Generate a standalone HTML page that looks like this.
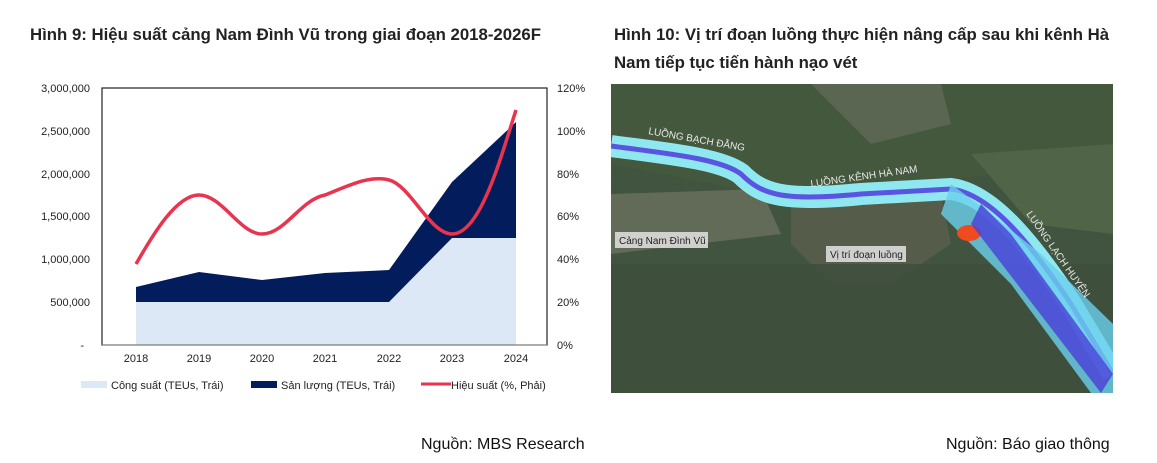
<!DOCTYPE html>
<html><head><meta charset="utf-8"><style>
body{margin:0;width:1157px;height:463px;background:#fff;font-family:"Liberation Sans",sans-serif;position:relative;overflow:hidden}
.t{position:absolute;font-weight:bold;font-size:16.8px;color:#222;white-space:nowrap}
.s{position:absolute;font-size:16px;color:#111;white-space:nowrap}
</style></head><body>
<div class="t" style="left:30px;top:25px">Hình 9: Hiệu suất cảng Nam Đình Vũ trong giai đoạn 2018-2026F</div>
<div class="t" style="left:614px;top:25px">Hình 10: Vị trí đoạn luồng thực hiện nâng cấp sau khi kênh Hà</div>
<div class="t" style="left:614px;top:53px">Nam tiếp tục tiến hành nạo vét</div>
<svg style="position:absolute;left:0;top:0" width="600" height="410" font-family="Liberation Sans" font-size="11" fill="#222">
<polygon points="136,302 389,302 452,238 516,238 516,345 136,345" fill="#dce8f5"/>
<polygon points="136,287 199,272 262,280 325,273 389,270 452,182 516,122 516,238 452,238 389,302 136,302" fill="#031d5c"/>
<rect x="102" y="88" width="445" height="257" fill="none" stroke="#222" stroke-width="1.2"/>
<g stroke="#888"><line x1="102" y1="345" x2="547" y2="345"/></g>
<path d="M136,264 C150,240 175,195 199,195 C222,195 240,234 262,234 C285,234 300,200 325,195 C350,185 370,175 389,180 C410,185 430,234 452,234 C480,234 500,160 516,110" fill="none" stroke="#e8344e" stroke-width="3.5"/>
<g text-anchor="end"><text x="90" y="92">3,000,000</text><text x="90" y="135">2,500,000</text><text x="90" y="178">2,000,000</text><text x="90" y="220">1,500,000</text><text x="90" y="263">1,000,000</text><text x="90" y="306">500,000</text><text x="84" y="349">-</text></g>
<g><text x="557" y="92">120%</text><text x="557" y="135">100%</text><text x="557" y="178">80%</text><text x="557" y="220">60%</text><text x="557" y="263">40%</text><text x="557" y="306">20%</text><text x="557" y="349">0%</text></g>
<g text-anchor="middle"><text x="136" y="362">2018</text><text x="199" y="362">2019</text><text x="262" y="362">2020</text><text x="325" y="362">2021</text><text x="389" y="362">2022</text><text x="452" y="362">2023</text><text x="516" y="362">2024</text></g>
<rect x="81" y="381" width="26" height="7" fill="#dce8f5"/><text x="111" y="389">Công suất (TEUs, Trái)</text>
<rect x="251" y="381" width="26" height="7" fill="#031d5c"/><text x="281" y="389">Sản lượng (TEUs, Trái)</text>
<line x1="421" y1="384" x2="451" y2="384" stroke="#e8344e" stroke-width="3"/><text x="451" y="389">Hiệu suất (%, Phải)</text>
</svg>
<svg style="position:absolute;left:611px;top:84px" width="502" height="309" font-family="Liberation Sans">
<rect width="502" height="309" fill="#40543f"/>
<path d="M0,0 H502 V80 L340,95 L200,120 L0,80Z" fill="#44583e"/>
<path d="M0,110 L150,105 L170,150 L0,170Z" fill="#626a58"/>
<path d="M180,120 L330,110 L340,160 L280,200 L220,200 L180,160Z" fill="#555c4a"/>
<path d="M360,70 L502,60 V150 L420,140Z" fill="#506448"/>
<path d="M200,0 L330,0 L340,40 L260,60Z" fill="#5a6552"/>
<path d="M0,180 H502 V309 H0Z" fill="#3d4e3c" opacity=".8"/>
<path d="M0,62 C60,70 110,75 130,90 C150,110 170,118 250,110 L340,105 C380,110 420,160 460,220 L502,290" fill="none" stroke="#8fe8f0" stroke-width="22"/>
<path d="M0,62 C60,70 110,75 130,90 C150,110 170,118 250,110 L340,105 C380,110 420,160 460,220 L502,290" fill="none" stroke="#5a55e0" stroke-width="5"/>
<path d="M340,100 L380,130 L430,170 L502,240 V309 L480,309 L400,200 L330,130Z" fill="#6ad0ec" opacity=".8"/>
<ellipse cx="358" cy="149" rx="12" ry="8" fill="#f04a20"/>
<path d="M360,140 L370,120 L400,150 L502,290 L490,309Z" fill="#4a3ed8" opacity=".8"/>
<g font-size="10" fill="#e8e8e8"><text x="37" y="50" transform="rotate(10 37 50)">LUỒNG BẠCH ĐẰNG</text><text x="200" y="103" transform="rotate(-8 200 103)">LUỒNG KÊNH HÀ NAM</text><text x="415" y="130" transform="rotate(55 415 130)">LUỒNG LẠCH HUYỆN</text></g>
<rect x="4" y="148" width="93" height="16" fill="#ddd" opacity=".9"/><text x="8" y="160" font-size="10" fill="#222">Cảng Nam Đình Vũ</text>
<rect x="215" y="162" width="80" height="16" fill="#ddd" opacity=".9"/><text x="219" y="174" font-size="10" fill="#222">Vị trí đoạn luồng</text>
</svg>
<div class="s" style="left:421px;top:436px">Nguồn: MBS Research</div>
<div class="s" style="left:946px;top:436px">Nguồn: Báo giao thông</div>
</body></html>
